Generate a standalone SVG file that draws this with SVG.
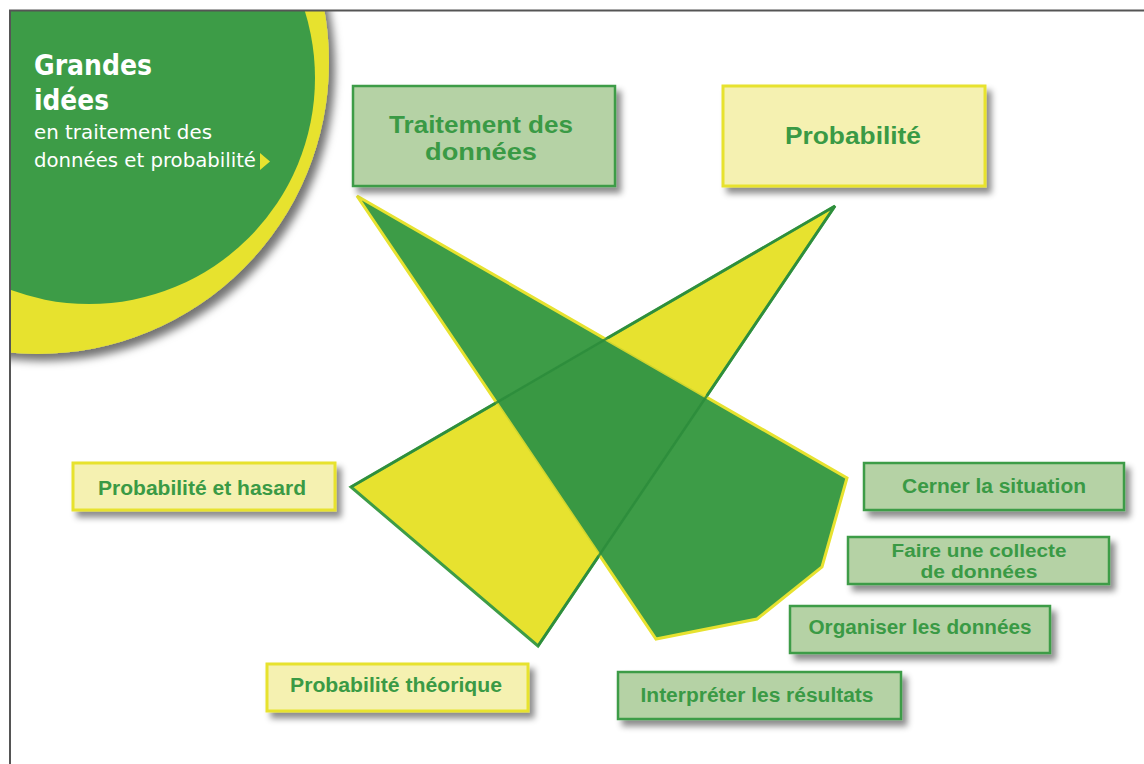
<svg xmlns="http://www.w3.org/2000/svg" width="1144" height="764" viewBox="0 0 1144 764">
<defs>
<filter id="sh" x="-20%" y="-30%" width="150%" height="180%">
<feDropShadow dx="5" dy="6" stdDeviation="3" flood-color="#000" flood-opacity="0.45"/>
</filter>
<filter id="csh" x="-20%" y="-20%" width="150%" height="150%">
<feDropShadow dx="6" dy="7" stdDeviation="4" flood-color="#000" flood-opacity="0.55"/>
</filter>
<clipPath id="frame"><rect x="11" y="11" width="1140" height="760"/></clipPath>
<clipPath id="ytri"><polygon points="835,206 351,487 538,646"/></clipPath>
<style>
.gbox{fill:#b5d2a5;stroke:#3d9c47;stroke-width:2.5}
.ybox{fill:#f5f1b1;stroke:#e7e22f;stroke-width:3}
.lbl{font-family:"Liberation Sans",Arial,sans-serif;font-weight:700;fill:#3a9a45;text-anchor:middle}
.big{font-size:24px}
.mid{font-size:18px}
.sm{font-size:20px}
.ct{font-family:"DejaVu Sans","Noto Sans",sans-serif;fill:#fff}
</style>
</defs>
<rect width="1144" height="764" fill="#fff"/>
<g id="title-circle" clip-path="url(#frame)">
<circle cx="37" cy="62" r="292" fill="#e7e22f" filter="url(#csh)"/>
<circle cx="89" cy="78" r="226" fill="#3d9c47"/>
<text class="ct" x="34" y="75" font-size="28" font-weight="700" textLength="118" lengthAdjust="spacingAndGlyphs">Grandes</text>
<text class="ct" x="34" y="110" font-size="28" font-weight="700" textLength="75" lengthAdjust="spacingAndGlyphs">idées</text>
<text class="ct" x="34" y="139" font-size="19" textLength="178" lengthAdjust="spacingAndGlyphs">en traitement des</text>
<text class="ct" x="34" y="167" font-size="19" textLength="222" lengthAdjust="spacingAndGlyphs">données et probabilité</text>
<polygon points="260,153 270,161.5 260,170" fill="#e7e22f"/>
</g>
<path d="M10,764 V10.5 H1144" fill="none" stroke="#555" stroke-width="2"/>
<g id="connectors">
<polygon id="prob-wedge" points="835,206 351,487 538,646" fill="#e7e22f" stroke="#3d9c47" stroke-width="3"/>
<polygon id="data-wedge" points="357,196 847,478 822,567 757,619 656,639" fill="#3d9c47" stroke="#e7e22f" stroke-width="3"/>
<polygon points="357,196 847,478 822,567 757,619 656,639" fill="#1f7a2c" fill-opacity="0.12" clip-path="url(#ytri)"/>
<polyline points="351,487 835,206 538,646" fill="none" stroke="#2c8c3b" stroke-width="2.5" stroke-opacity="0.85"/>
</g>
<g id="n-traitement">
<rect class="gbox" x="353" y="86" width="262" height="100" filter="url(#sh)"/>
<text class="lbl big"><tspan x="481" y="133" textLength="184" lengthAdjust="spacingAndGlyphs">Traitement des</tspan><tspan x="481" y="160" textLength="112" lengthAdjust="spacingAndGlyphs">données</tspan></text>
</g>
<g id="n-probabilite">
<rect class="ybox" x="723" y="86" width="262" height="100" filter="url(#sh)"/>
<text class="lbl big" x="853" y="144" font-size="25" textLength="136" lengthAdjust="spacingAndGlyphs">Probabilité</text>
</g>
<g id="n-hasard">
<rect class="ybox" x="73" y="463" width="262" height="47" filter="url(#sh)"/>
<text class="lbl sm" x="202" y="495" textLength="208" lengthAdjust="spacingAndGlyphs">Probabilité et hasard</text>
</g>
<g id="n-theorique">
<rect class="ybox" x="267" y="664" width="261" height="47" filter="url(#sh)"/>
<text class="lbl sm" x="396" y="692" textLength="212" lengthAdjust="spacingAndGlyphs">Probabilité théorique</text>
</g>
<g id="n-cerner">
<rect class="gbox" x="864" y="463" width="260" height="47" filter="url(#sh)"/>
<text class="lbl sm" x="994" y="493" textLength="184" lengthAdjust="spacingAndGlyphs">Cerner la situation</text>
</g>
<g id="n-collecte">
<rect class="gbox" x="848" y="537" width="261" height="47" filter="url(#sh)"/>
<text class="lbl mid"><tspan x="979" y="557" textLength="175" lengthAdjust="spacingAndGlyphs">Faire une collecte</tspan><tspan x="979" y="578" textLength="117" lengthAdjust="spacingAndGlyphs">de données</tspan></text>
</g>
<g id="n-organiser">
<rect class="gbox" x="790" y="606" width="260" height="47" filter="url(#sh)"/>
<text class="lbl sm" x="920" y="634" textLength="223" lengthAdjust="spacingAndGlyphs">Organiser les données</text>
</g>
<g id="n-interpreter">
<rect class="gbox" x="618" y="672" width="283" height="47" filter="url(#sh)"/>
<text class="lbl sm" x="757" y="702" textLength="233" lengthAdjust="spacingAndGlyphs">Interpréter les résultats</text>
</g>
</svg>
